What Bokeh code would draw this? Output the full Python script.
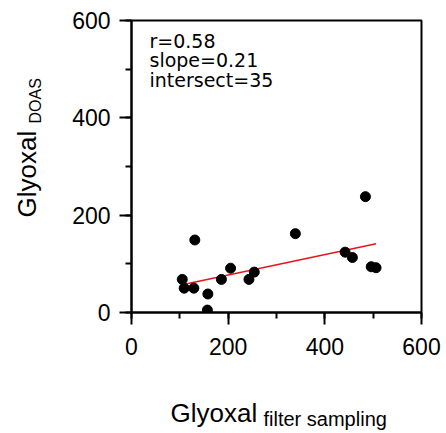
import math
from bokeh.plotting import figure
from bokeh.layouts import row, column
from bokeh.models import Label, SingleIntervalTicker, Range1d
from bokeh.embed import file_html
from bokeh.resources import INLINE

# data
glyoxal_filter = [105, 109, 129, 131, 158, 157, 186, 205, 243, 254, 339, 442, 457, 484, 496, 506]
glyoxal_doas = [68, 50, 50, 149, 38, 5, 68, 91, 68, 83, 162, 124, 113, 238, 94, 92]
fit_slope = 0.21
fit_intercept = 35
stats_labels = ["r=0.58", "slope=0.21", "intersect=35"]
x_label_main = "Glyoxal"
x_label_sub = "filter sampling"
y_label_main = "Glyoxal"
y_label_sub = "DOAS"

FONT = "Liberation Sans"

p = figure(frame_width=290, frame_height=292,
           min_border_left=86, min_border_right=25,
           min_border_top=20, min_border_bottom=60,
           x_range=Range1d(0, 600), y_range=Range1d(0, 600),
           output_backend="svg", toolbar_location=None,
           background_fill_color="white", border_fill_color="white")
p.frame_align = False

p.xgrid.visible = False
p.ygrid.visible = False
p.outline_line_color = "black"
p.outline_line_width = 2
p.outline_line_alpha = 1

for ax in (p.xaxis[0], p.yaxis[0]):
    ax.ticker = SingleIntervalTicker(interval=200, num_minor_ticks=2)
    ax.axis_line_width = 2
    ax.axis_line_color = "black"
    ax.major_tick_line_width = 2
    ax.minor_tick_line_width = 2
    ax.major_tick_line_color = "black"
    ax.minor_tick_line_color = "black"
    ax.major_tick_out = 12
    ax.major_tick_in = 0
    ax.minor_tick_out = 6
    ax.minor_tick_in = 0
    ax.major_label_text_font = FONT
    ax.major_label_text_font_size = "23px"
    ax.major_label_text_color = "black"
p.yaxis[0].major_label_standoff = 9
p.xaxis[0].major_label_standoff = 13

# fit line
fx = [min(glyoxal_filter), max(glyoxal_filter)]
fy = [fit_intercept + fit_slope * v for v in fx]
p.line(fx, fy, line_color="#e8141c", line_width=1.5)

# points
p.scatter(glyoxal_filter, glyoxal_doas, size=10, fill_color="black", line_color="black")

# stats text
stats_y = [272, 253, 233]
for t, sy in zip(stats_labels, stats_y):
    p.add_layout(Label(x=18, y=sy, x_units="screen", y_units="screen", text=t,
                       text_font="DejaVu Sans", text_font_size="19px",
                       text_color="black", text_baseline="alphabetic", text_align="left"))


def label_strip(w, h):
    f = figure(width=w, height=h, min_border=0, min_border_left=0, min_border_right=0,
               min_border_top=0, min_border_bottom=0,
               x_range=Range1d(0, 1), y_range=Range1d(0, 1),
               x_axis_type=None, y_axis_type=None,
               output_backend="svg", toolbar_location=None,
               background_fill_color="white", border_fill_color="white")
    f.frame_align = False
    f.outline_line_color = None
    f.grid.visible = False
    return f


# y label strip (left of the plot)
ystrip = label_strip(45, 433)
ystrip.add_layout(Label(x=26, y=216, x_units="screen", y_units="screen", text=y_label_main,
                        angle=math.pi / 2,
                        text_font=FONT, text_font_size="26px", text_color="black",
                        text_baseline="alphabetic", text_align="left"))
ystrip.add_layout(Label(x=35, y=310, x_units="screen", y_units="screen", text=y_label_sub,
                        angle=math.pi / 2,
                        text_font=FONT, text_font_size="16px", text_color="black",
                        text_baseline="alphabetic", text_align="left"))

# x label strip (below the plot)
xstrip = label_strip(401, 61)
xstrip.add_layout(Label(x=125, y=21, x_units="screen", y_units="screen", text=x_label_main,
                        text_font=FONT, text_font_size="26px", text_color="black",
                        text_baseline="alphabetic", text_align="left"))
xstrip.add_layout(Label(x=218, y=15, x_units="screen", y_units="screen", text=x_label_sub,
                        text_font=FONT, text_font_size="20px", text_color="black",
                        text_baseline="alphabetic", text_align="left"))

layout = row(ystrip, column(p, xstrip, spacing=0), spacing=0)

open("out.html", "w").write(file_html(layout, INLINE))
